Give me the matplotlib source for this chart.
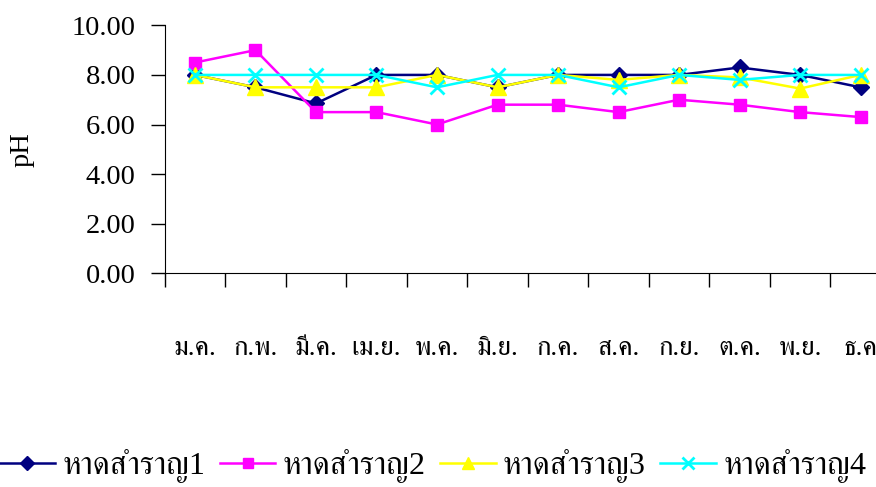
import matplotlib
matplotlib.use("Agg")
import matplotlib.pyplot as plt
import numpy as np

months = ["ม.ค.", "ก.พ.", "มี.ค.", "เม.ย.", "พ.ค.", "มิ.ย.",
          "ก.ค.", "ส.ค.", "ก.ย.", "ต.ค.", "พ.ย.", "ธ.ค"]
beach1 = [8.0, 7.5, 6.85, 8.0, 8.0, 7.5, 8.0, 8.0, 8.0, 8.3, 8.0, 7.5]
beach2 = [8.5, 9.0, 6.5, 6.5, 6.0, 6.8, 6.8, 6.5, 7.0, 6.8, 6.5, 6.3]
beach3 = [8.0, 7.5, 7.5, 7.5, 8.0, 7.5, 8.0, 7.8, 8.0, 7.9, 7.45, 8.0]
beach4 = [8.0, 8.0, 8.0, 8.0, 7.5, 8.0, 8.0, 7.5, 8.0, 7.8, 8.0, 8.0]
names = ["หาดสำราญ1", "หาดสำราญ2", "หาดสำราญ3", "หาดสำราญ4"]

# Times-like digits, Thai glyphs fall through to FreeSerif
plt.rcParams["font.family"] = ["Liberation Serif", "FreeSerif"]

fig = plt.figure(figsize=(8.76, 4.87), dpi=100)
ax = fig.add_axes([0.188, 0.4388, 0.829, 0.5092])

x = np.arange(len(months))
styles = [
    dict(color="#000080", marker="D", markersize=8),
    dict(color="#FF00FF", marker="s", markersize=9),
    dict(color="#FFFF00", marker="^", markersize=11),
    dict(color="#00FFFF", marker="x", markersize=10, markeredgewidth=2),
]
for vals, name, st in zip([beach1, beach2, beach3, beach4], names, styles):
    ax.plot(x, vals, linewidth=1.8, label=name, **st)

ax.set_xlim(-0.5, len(months) - 0.5)
ax.set_ylim(0, 10)
yt = np.arange(0, 10.01, 2)
ax.set_yticks(yt)
ax.set_yticklabels([f"{v:.2f}" for v in yt], fontsize=20.5)
ax.tick_params(axis="y", direction="out", length=10, width=1, pad=11)

# month labels at category centres, tick marks at category boundaries
ax.set_xticks(x)
ax.set_xticklabels(months, fontsize=19.5)
ax.tick_params(axis="x", which="major", length=0, pad=45)
ax.set_xticks(np.arange(-0.5, len(months), 1), minor=True)
ax.tick_params(axis="x", which="minor", direction="out", length=10, width=1)

for side in ["top", "right"]:
    ax.spines[side].set_visible(False)

ax.set_ylabel("pH", fontsize=20.5)
ax.yaxis.set_label_coords(-0.179, 0.5)

fig.legend(loc="center", bbox_to_anchor=(0.494, 0.043), ncol=4,
           frameon=False, fontsize=23, handlelength=1.75, handletextpad=0.22,
           columnspacing=0.45, borderaxespad=0, borderpad=0, markerscale=0.85)

fig.savefig("out.png", dpi=100)
